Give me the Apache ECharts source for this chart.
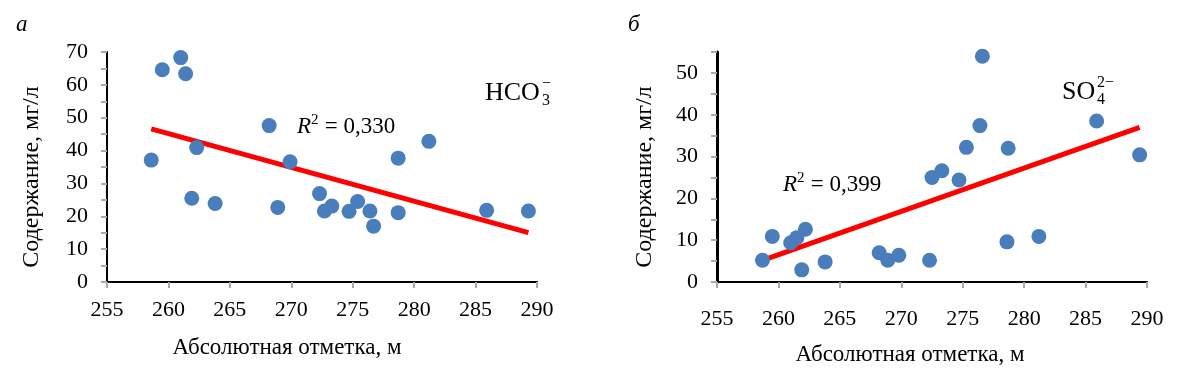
<!DOCTYPE html>
<html>
<head>
<meta charset="utf-8">
<script src="https://cdn.jsdelivr.net/npm/echarts@6/dist/echarts.min.js"></script>
<style>
  html, body { margin: 0; padding: 0; background: #fff; }
  #chart { width: 1183px; height: 377px; }
</style>
</head>
<body>
<div id="chart"></div>
<script>
  // абсолютная отметка (м) и содержание (мг/л)
  var hcoX = [258.6, 259.5, 261.0, 261.4, 261.9, 262.3, 263.8, 268.2, 268.9, 269.9, 272.3,
              272.7, 273.3, 274.7, 275.4, 276.4, 276.7, 278.7, 278.7, 281.2, 285.9, 289.3];
  var hcoY = [37.1, 64.6, 68.3, 63.4, 25.5, 40.9, 23.9, 47.6, 22.7, 36.6, 26.9,
              21.6, 23.1, 21.5, 24.5, 21.6, 17.0, 37.7, 21.1, 42.8, 21.8, 21.6];
  var hcoTrend = [[258.6, 46.6], [289.3, 15.0]];

  var soX = [258.7, 259.5, 261.0, 261.5, 261.9, 262.2, 263.8, 268.2, 268.9, 269.8, 272.3,
             272.5, 273.3, 274.7, 275.3, 276.4, 276.6, 278.6, 278.7, 281.2, 285.9, 289.4];
  var soY = [5.2, 10.9, 9.4, 10.6, 2.9, 12.6, 4.8, 7.0, 5.2, 6.4, 5.2,
             25.0, 26.6, 24.4, 32.2, 37.4, 54.0, 9.6, 32.0, 10.9, 38.5, 30.4];
  var soTrend = [[259.1, 5.6], [289.4, 37.0]];

  var xTicks = [255, 260, 265, 270, 275, 280, 285, 290];

  function pairs(xs, ys) {
    return xs.map(function (x, i) { return [x, ys[i]]; });
  }

  var serif = 'Liberation Serif';
  var dotColor = '#4a7dbb';

  function xAx(idx) {
    return {
      gridIndex: idx, type: 'value', min: xTicks[0], max: xTicks[xTicks.length - 1], interval: 5,
      axisLine: { lineStyle: { color: '#000', width: 2 } },
      axisTick: { length: 6, lineStyle: { color: '#aaa', width: 2 } },
      axisLabel: { color: '#000', fontFamily: serif, fontSize: 22, margin: idx ? 26 : 17 },
      splitLine: { show: false }
    };
  }
  function yAx(idx, max) {
    return {
      gridIndex: idx, type: 'value', min: 0, max: max, interval: 5,
      axisLine: { show: true, lineStyle: { color: '#000', width: idx ? 3 : 2 } },
      axisTick: { show: true, length: 6, lineStyle: { color: '#aaa', width: 2 } },
      axisLabel: {
        color: '#000', fontFamily: serif, fontSize: 22, margin: 19,
        formatter: function (v) { return v % 10 === 0 ? String(v) : ''; }
      },
      splitLine: { show: false }
    };
  }

  var chart = echarts.init(document.getElementById('chart'));
  var txt = function (x, y, text, size, extra) {
    var st = { text: text, fill: '#000', fontFamily: serif, fontSize: size, verticalAlign: 'middle' };
    for (var k in extra) st[k] = extra[k];
    return { type: 'text', x: x, y: y, style: st };
  };
  var yName = function (x) {
    return { type: 'text', x: x, y: 177, rotation: Math.PI / 2,
      style: { text: 'Содержание, мг/л', fill: '#000', fontFamily: serif, fontSize: 24,
               align: 'center', verticalAlign: 'middle' } };
  };

  chart.setOption({
    animation: false,
    grid: [
      { left: 107, top: 52, width: 430, height: 230 },
      { left: 717, top: 52, width: 430, height: 230 }
    ],
    xAxis: [xAx(0), xAx(1)],
    yAxis: [yAx(0, 70), yAx(1, 55)],
    series: [
      { type: 'scatter', xAxisIndex: 0, yAxisIndex: 0, data: pairs(hcoX, hcoY),
        symbolSize: 15, itemStyle: { color: dotColor, opacity: 1 } },
      { type: 'line', xAxisIndex: 0, yAxisIndex: 0, data: hcoTrend, symbol: 'none',
        lineStyle: { color: '#ff0000', width: 5 }, z: 1 },
      { type: 'scatter', xAxisIndex: 1, yAxisIndex: 1, data: pairs(soX, soY),
        symbolSize: 15, itemStyle: { color: dotColor, opacity: 1 } },
      { type: 'line', xAxisIndex: 1, yAxisIndex: 1, data: soTrend, symbol: 'none',
        lineStyle: { color: '#ff0000', width: 5 }, z: 1 }
    ],
    graphic: [
      txt(16, 25, 'а', 23, { fontStyle: 'italic' }),
      txt(628, 25, 'б', 23, { fontStyle: 'italic' }),
      // названия осей
      txt(287, 348, 'Абсолютная отметка, м', 23, { align: 'center' }),
      txt(910, 355, 'Абсолютная отметка, м', 23, { align: 'center' }),
      yName(32),
      yName(645),
      // R^2
      txt(297, 127, 'R', 23, { fontStyle: 'italic' }),
      txt(311, 120, '2', 15, {}),
      txt(319, 127, ' = 0,330', 23, {}),
      txt(783, 185, 'R', 23, { fontStyle: 'italic' }),
      txt(797, 178, '2', 15, {}),
      txt(805, 185, ' = 0,399', 23, {}),
      // ионы
      txt(485, 93, 'HCO', 26, {}),
      txt(542, 101, '3', 16, {}),
      txt(542, 84, '−', 16, {}),
      txt(1062, 92, 'SO', 26, {}),
      txt(1097, 100, '4', 16, {}),
      txt(1097, 83, '2−', 16, {})
    ]
  });
</script>
</body>
</html>
